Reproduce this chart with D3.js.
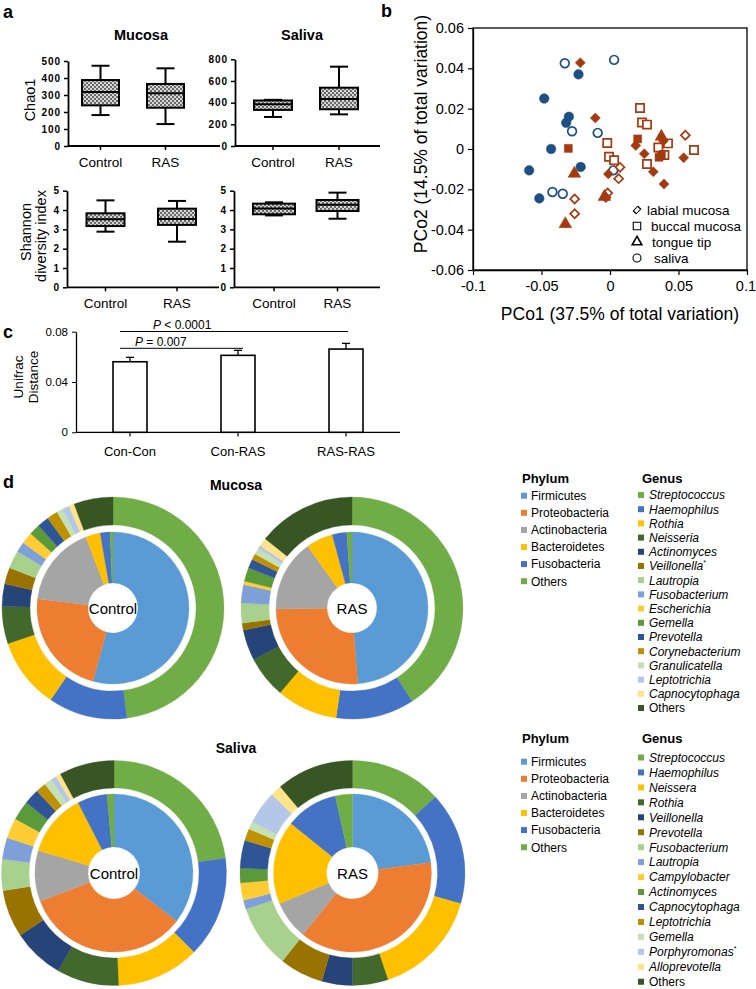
<!DOCTYPE html>
<html><head><meta charset="utf-8">
<script src="https://cdn.jsdelivr.net/npm/d3@7"></script>
<style>body{margin:0;background:#fff} svg{display:block}</style>
</head><body><svg id="fig" width="756" height="989"></svg>
<script>
// ---------------- DATA ----------------
// Panel a: box plots [min, Q1, median, Q3, max]
const boxGroups = ["Control", "RAS"];
const chaoMucosa = [[182, 239, 318, 388, 472], [129, 225, 310, 365, 457]];
const chaoSaliva = [[268, 333, 385, 420, 426], [292, 339, 434, 538, 732]];
const shannonMucosa = [[2.88, 3.17, 3.52, 3.83, 4.5], [2.36, 3.23, 3.54, 4.07, 4.47]];
const shannonSaliva = [[3.72, 3.78, 4.08, 4.33, 4.4], [3.55, 3.95, 4.27, 4.52, 4.9]];
const chaoMucosaTicks = [0, 100, 200, 300, 400, 500];
const chaoSalivaTicks = [0, 200, 400, 600, 800];
const shannonTicks = [0, 1, 2, 3, 4, 5];

// Panel b: PCoA points [PCo1, PCo2]
const salivaFilled = [[-0.023, 0.037], [-0.048, 0.025], [-0.030, 0.016], [-0.032, 0.013], [-0.043, 0.0], [-0.059, -0.0106], [-0.0214, -0.0089], [-0.0516, -0.0245]];
const salivaOpen = [[-0.033, 0.0425], [0.003, 0.0442], [-0.0277, 0.0088], [-0.009, 0.008], [0.0024, -0.0106], [-0.042, -0.0213], [-0.0345, -0.0222]];
const labialOpen = [[-0.0258, -0.0248], [-0.0258, -0.0321], [0.0073, -0.0091], [0.0063, -0.0147], [-0.0017, -0.0218], [0.055, 0.0068], [-0.003, -0.024]];
const buccalOpen = [[0.0219, 0.0203], [0.0234, 0.0131], [0.027, 0.0121], [-0.002, 0.003], [-0.0007, -0.0038], [0.003, -0.0056], [0.0353, 0.0007], [0.027, -0.0074], [0.0397, -0.003], [0.0423, 0.0028], [0.0613, -0.0005]];
const labialFilled = [[-0.0217, 0.0428], [-0.0107, 0.0154], [0.0188, 0.0017], [0.025, -0.0023], [0.0316, -0.0113], [0.0394, -0.0174], [0.0538, -0.0043], [-0.0012, -0.0124], [0.039, 0.004]];
const buccalFilled = [[-0.0304, 0.0003], [0.0202, 0.005], [0.0358, -0.0041], [0.0375, -0.003]];
const tongueFilled = [[-0.0326, -0.0372], [-0.026, -0.0122], [-0.0041, -0.0237], [0.0375, 0.0061]];
const pcoXTicks = [-0.1, -0.05, 0, 0.05, 0.1];
const pcoYTicks = [-0.06, -0.04, -0.02, 0, 0.02, 0.04, 0.06];
const pcoLegend = ["labial mucosa", "buccal mucosa", "tongue tip", "saliva"];

// Panel c: Unifrac distance
const unifracCats = ["Con-Con", "Con-RAS", "RAS-RAS"];
const unifracMean = [0.0561, 0.0612, 0.0662];
const unifracErr = [0.0035, 0.0040, 0.0045];
const unifracTicks = [0, 0.04, 0.08];

// Panel d: composition (%)
const phylumNames = ["Firmicutes", "Proteobacteria", "Actinobacteria", "Bacteroidetes", "Fusobacteria", "Others"];
const phylumMucosaControl = [54.3, 22.7, 17.3, 3.1, 2.1, 0.6];
const phylumMucosaRAS = [48.8, 26.0, 15.3, 5.7, 3.1, 1.1];
const phylumSalivaControl = [35.4, 33.7, 10.4, 12.9, 6.1, 1.4];
const phylumSalivaRAS = [22.9, 37.9, 7.9, 17.1, 10.7, 3.5];
const genusMucosa = ["Streptococcus", "Haemophilus", "Rothia", "Neisseria", "Actinomyces", "Veillonella", "Lautropia", "Fusobacterium", "Escherichia", "Gemella", "Prevotella", "Corynebacterium", "Granulicatella", "Leptotrichia", "Capnocytophaga", "Others"];
const genusMucosaControl = [48.0, 11.5, 10.3, 5.4, 3.3, 2.4, 2.6, 1.5, 1.7, 1.6, 1.7, 1.6, 0.9, 1.0, 0.8, 5.7];
const genusMucosaRAS = [40.9, 11.4, 8.9, 6.1, 4.5, 1.0, 2.9, 2.7, 0.5, 2.0, 1.3, 0.9, 0.9, 0.5, 1.2, 14.3];
const genusSaliva = ["Streptococcus", "Haemophilus", "Neissera", "Rothia", "Veillonella", "Prevotella", "Fusobacterium", "Lautropia", "Campylobacter", "Actinomyces", "Capnocytophaga", "Leptotrichia", "Gemella", "Porphyromonas", "Alloprevotella", "Others"];
const genusSalivaControl = [22.9, 14.5, 11.9, 8.9, 7.4, 6.8, 4.5, 3.1, 2.9, 2.8, 2.2, 1.5, 1.1, 0.8, 0.7, 7.9];
const genusSalivaRAS = [13.2, 16.2, 15.5, 5.1, 4.4, 6.3, 9.1, 1.3, 2.5, 2.1, 4.0, 1.7, 1.1, 4.8, 1.6, 11.1];
const starredMucosa = ["Veillonella"];
const starredSaliva = ["Porphyromonas"];

// ---------------- STYLE ----------------
const FONT = '"Liberation Sans", Arial, Helvetica, sans-serif';
const phylumColors = ["#5b9bd5", "#ed7d31", "#a5a5a5", "#ffc000", "#4472c4", "#70ad47"];
const genusColors = ["#70ad47", "#4472c4", "#ffc000", "#43682b", "#264478", "#997300", "#a9d18e", "#7f9fd9", "#ffcd33", "#5a9a3a", "#2f5597", "#bf9000", "#c5e0b4", "#b4c7e7", "#ffe38a", "#375623"];
const BLUE = "#1d4f85", RED = "#a33a10";

const svg = d3.select("#fig").attr("font-family", FONT);
const defs = svg.append("defs");
const pat = defs.append("pattern").attr("id", "dots").attr("width", 4).attr("height", 4).attr("patternUnits", "userSpaceOnUse");
pat.append("rect").attr("width", 4).attr("height", 4).attr("fill", "#d6d6d6");
pat.append("rect").attr("width", 2).attr("height", 2).attr("fill", "#6a6a6a");
pat.append("rect").attr("x", 2).attr("y", 2).attr("width", 2).attr("height", 2).attr("fill", "#6a6a6a");

function panelLabel(t, x, y) {
  svg.append("text").attr("x", x).attr("y", y).attr("font-size", 18).attr("font-weight", "bold").text(t);
}
panelLabel("a", 3, 18); panelLabel("b", 381, 17); panelLabel("c", 3, 338); panelLabel("d", 3, 488);

// ---------------- PANEL A ----------------
function boxPanel(o) {
  const y = d3.scaleLinear().domain([0, o.max]).range([o.yBottom, o.yTop]);
  const x = d3.scalePoint().domain(boxGroups).range([o.cx0, o.cx1]);
  const g = svg.append("g");
  const ax = g.append("g").attr("transform", `translate(${o.axisX},0)`)
    .call(d3.axisLeft(y).tickValues(o.ticks).tickSize(4).tickSizeOuter(0).tickPadding(3).tickFormat(d => String(d)));
  ax.select(".domain").attr("stroke-width", 1.8);
  ax.selectAll(".tick line").attr("stroke-width", 1.5);
  ax.selectAll("text").attr("font-family", FONT).attr("font-weight", "bold").attr("font-size", 10)
    .attr("letter-spacing", 0.9).attr("fill", "#000");
  g.append("line").attr("x1", o.axisX).attr("x2", o.axisEnd).attr("y1", o.yBottom).attr("y2", o.yBottom)
    .attr("stroke", "#000").attr("stroke-width", 1.8);
  boxGroups.forEach((c, i) => {
    const d = o.data[i], cx = x(c), w = o.boxW;
    g.append("line").attr("x1", cx).attr("x2", cx).attr("y1", o.yBottom).attr("y2", o.yBottom + 4).attr("stroke", "#000").attr("stroke-width", 1.5);
    g.append("text").attr("x", cx).attr("y", o.yBottom + 21).attr("text-anchor", "middle").attr("font-size", 13.5).text(c);
    g.append("line").attr("x1", cx).attr("x2", cx).attr("y1", y(d[0])).attr("y2", y(d[4])).attr("stroke", "#000").attr("stroke-width", 2);
    [d[0], d[4]].forEach(v => g.append("line").attr("x1", cx - 9).attr("x2", cx + 9).attr("y1", y(v)).attr("y2", y(v)).attr("stroke", "#000").attr("stroke-width", 2));
    g.append("rect").attr("x", cx - w / 2).attr("y", y(d[3])).attr("width", w).attr("height", y(d[1]) - y(d[3]))
      .attr("fill", "url(#dots)").attr("stroke", "#000").attr("stroke-width", 2);
    g.append("line").attr("x1", cx - w / 2).attr("x2", cx + w / 2).attr("y1", y(d[2])).attr("y2", y(d[2])).attr("stroke", "#000").attr("stroke-width", 2);
  });
}
boxPanel({data: chaoMucosa, max: 500, ticks: chaoMucosaTicks, yBottom: 146, yTop: 61, axisX: 68, axisEnd: 220, cx0: 100.5, cx1: 165.5, boxW: 37});
boxPanel({data: chaoSaliva, max: 800, ticks: chaoSalivaTicks, yBottom: 146, yTop: 59.3, axisX: 235, axisEnd: 380, cx0: 273, cx1: 339, boxW: 38});
boxPanel({data: shannonMucosa, max: 5, ticks: shannonTicks, yBottom: 287.3, yTop: 190.7, axisX: 67, axisEnd: 219, cx0: 105.5, cx1: 177, boxW: 38});
boxPanel({data: shannonSaliva, max: 5, ticks: shannonTicks, yBottom: 287.3, yTop: 190.7, axisX: 234, axisEnd: 380, cx0: 274, cx1: 337.5, boxW: 42});

svg.append("text").attr("x", 141).attr("y", 40).attr("text-anchor", "middle").attr("font-size", 14.5).attr("font-weight", "bold").text("Mucosa");
svg.append("text").attr("x", 302).attr("y", 40).attr("text-anchor", "middle").attr("font-size", 14.5).attr("font-weight", "bold").text("Saliva");
svg.append("text").attr("transform", "translate(35,100) rotate(-90)").attr("text-anchor", "middle").attr("font-size", 14.5).text("Chao1");
svg.append("text").attr("transform", "translate(31,232) rotate(-90)").attr("text-anchor", "middle").attr("font-size", 14.5).text("Shannon");
svg.append("text").attr("transform", "translate(45.5,236) rotate(-90)").attr("text-anchor", "middle").attr("font-size", 14.5).text("diversity index");

// ---------------- PANEL B ----------------
const xB = d3.scaleLinear().domain([-0.1, 0.1]).range([473, 747]);
const yB = d3.scaleLinear().domain([-0.06, 0.06]).range([270, 28]);
const gB = svg.append("g");
gB.append("rect").attr("x", 473).attr("y", 28).attr("width", 274).attr("height", 242).attr("fill", "none").attr("stroke", "#000").attr("stroke-width", 1.3);
const axYB = gB.append("g").attr("transform", "translate(473,0)").call(d3.axisLeft(yB).tickValues(pcoYTicks).tickSize(5).tickSizeOuter(0).tickPadding(4).tickFormat(d => d === 0 ? "0" : d.toFixed(2)));
const axXB = gB.append("g").attr("transform", "translate(0,270)").call(d3.axisBottom(xB).tickValues(pcoXTicks).tickSize(5).tickSizeOuter(0).tickPadding(6).tickFormat(d => d === 0 ? "0" : String(d)));
[axYB, axXB].forEach(a => {
  a.select(".domain").attr("stroke-width", 1.3);
  a.selectAll(".tick line").attr("stroke-width", 1.2);
  a.selectAll("text").attr("font-family", FONT).attr("font-size", 14.5).attr("fill", "#000");
});
axXB.selectAll(".tick text").filter(d => d === 0.1).attr("text-anchor", "end").attr("dx", 8.5);
gB.append("text").attr("x", 620).attr("y", 320).attr("text-anchor", "middle").attr("font-size", 17.5).text("PCo1 (37.5% of total variation)");
gB.append("text").attr("transform", "translate(427,134) rotate(-90)").attr("text-anchor", "middle").attr("font-size", 17.5).text("PCo2 (14.5% of total variation)");

function pts(data, type, size, color, filled, rot) {
  const sym = d3.symbol().type(type).size(size);
  gB.selectAll(null).data(data).enter().append("path")
    .attr("d", sym)
    .attr("transform", d => `translate(${xB(d[0])},${yB(d[1])})${rot ? " rotate(45)" : ""}`)
    .attr("fill", filled ? color : "#fff").attr("stroke", color).attr("stroke-width", filled ? 0.5 : 1.7);
}
pts(salivaOpen, d3.symbolCircle, 60, BLUE, false, false);
pts(labialOpen, d3.symbolSquare, 40, RED, false, true);
pts(buccalOpen, d3.symbolSquare, 68, RED, false, false);
pts(salivaFilled, d3.symbolCircle, 72, BLUE, true, false);
pts(labialFilled, d3.symbolSquare, 50, RED, true, true);
pts(buccalFilled, d3.symbolSquare, 64, RED, true, false);
pts(tongueFilled, d3.symbolTriangle, 70, RED, true, false);

// legend in b
const legShapes = [d3.symbolSquare, d3.symbolSquare, d3.symbolTriangle, d3.symbolCircle];
const legSizes = [26, 56, 40, 50];
const legTextX = [647, 651, 652, 654];
pcoLegend.forEach((t, i) => {
  const yy = 210 + i * 16;
  gB.append("path").attr("d", d3.symbol().type(legShapes[i]).size(legSizes[i]))
    .attr("transform", `translate(637,${yy})${i === 0 ? " rotate(45) scale(0.8,1.25)" : ""}`)
    .attr("fill", "none").attr("stroke", "#000").attr("stroke-width", i === 2 ? 1.6 : 1.1);
  gB.append("text").attr("x", legTextX[i]).attr("y", yy + 5).attr("font-size", 13.5).text(t);
});

// ---------------- PANEL C ----------------
const yC = d3.scaleLinear().domain([0, 0.08]).range([432.3, 331.7]);
const xC = d3.scaleBand().domain(unifracCats).range([76, 400]);
const gC = svg.append("g");
const axYC = gC.append("g").attr("transform", "translate(76,0)").call(d3.axisLeft(yC).tickValues(unifracTicks).tickSize(4).tickSizeOuter(0).tickPadding(4).tickFormat(d => d === 0 ? "0" : d.toFixed(2)));
axYC.select(".domain").attr("stroke-width", 1.3);
axYC.selectAll("text").attr("font-family", FONT).attr("font-size", 11.5).attr("fill", "#000");
gC.append("line").attr("x1", 76).attr("x2", 400).attr("y1", 432.3).attr("y2", 432.3).attr("stroke", "#000").attr("stroke-width", 1.3);
unifracCats.forEach((c, i) => {
  const cx = xC(c) + xC.bandwidth() / 2;
  gC.append("line").attr("x1", cx).attr("x2", cx).attr("y1", 432.3).attr("y2", 436.5).attr("stroke", "#000").attr("stroke-width", 1.2);
  gC.append("line").attr("x1", cx).attr("x2", cx).attr("y1", yC(unifracMean[i])).attr("y2", yC(unifracMean[i] + unifracErr[i])).attr("stroke", "#000").attr("stroke-width", 1.3);
  gC.append("line").attr("x1", cx - 4).attr("x2", cx + 4).attr("y1", yC(unifracMean[i] + unifracErr[i])).attr("y2", yC(unifracMean[i] + unifracErr[i])).attr("stroke", "#000").attr("stroke-width", 1.3);
  gC.append("rect").attr("x", cx - 17).attr("y", yC(unifracMean[i])).attr("width", 34).attr("height", 432.3 - yC(unifracMean[i]))
    .attr("fill", "#fff").attr("stroke", "#000").attr("stroke-width", 1.6);
  gC.append("text").attr("x", cx).attr("y", 456).attr("text-anchor", "middle").attr("font-size", 13).text(c);
});
gC.append("line").attr("x1", 120).attr("x2", 243).attr("y1", 348.3).attr("y2", 348.3).attr("stroke", "#000").attr("stroke-width", 1);
gC.append("line").attr("x1", 120).attr("x2", 348).attr("y1", 331.5).attr("y2", 331.5).attr("stroke", "#000").attr("stroke-width", 1);
const p1 = gC.append("text").attr("x", 135).attr("y", 345.5).attr("font-size", 12);
p1.append("tspan").attr("font-style", "italic").text("P");
p1.append("tspan").text(" = 0.007");
const p2 = gC.append("text").attr("x", 153).attr("y", 328.5).attr("font-size", 12);
p2.append("tspan").attr("font-style", "italic").text("P");
p2.append("tspan").text(" < 0.0001");
gC.append("text").attr("transform", "translate(23,377) rotate(-90)").attr("text-anchor", "middle").attr("font-size", 13.5).text("Unifrac");
gC.append("text").attr("transform", "translate(38,377) rotate(-90)").attr("text-anchor", "middle").attr("font-size", 13.5).text("Distance");

// ---------------- PANEL D ----------------
const pie = d3.pie().sort(null).value(d => d);
function donut(cx, cy, inner, outer, label, r) {
  const g = svg.append("g").attr("transform", `translate(${cx},${cy})`);
  const arcIn = d3.arc().innerRadius(r.hole).outerRadius(r.pie);
  const arcOut = d3.arc().innerRadius(r.ringIn).outerRadius(r.ringOut);
  g.selectAll(null).data(pie(outer)).enter().append("path").attr("d", arcOut)
    .attr("fill", (d, i) => genusColors[i]).attr("stroke", (d, i) => genusColors[i]).attr("stroke-width", 0.3);
  g.selectAll(null).data(pie(inner)).enter().append("path").attr("d", arcIn)
    .attr("fill", (d, i) => phylumColors[i]).attr("stroke", (d, i) => phylumColors[i]).attr("stroke-width", 0.3);
  g.append("text").attr("x", 0).attr("y", 5.5).attr("text-anchor", "middle").attr("font-size", 15).text(label);
}
const rM = {hole: 25, pie: 76, ringIn: 83, ringOut: 111};
const rS = {hole: 26, pie: 79, ringIn: 85, ringOut: 112.5};
donut(113, 608, phylumMucosaControl, genusMucosaControl, "Control", rM);
donut(352, 608, phylumMucosaRAS, genusMucosaRAS, "RAS", rM);
donut(114, 873, phylumSalivaControl, genusSalivaControl, "Control", rS);
donut(352.5, 873, phylumSalivaRAS, genusSalivaRAS, "RAS", rS);
svg.append("text").attr("x", 236).attr("y", 490).attr("text-anchor", "middle").attr("font-size", 14).attr("font-weight", "bold").text("Mucosa");
svg.append("text").attr("x", 236).attr("y", 753).attr("text-anchor", "middle").attr("font-size", 14).attr("font-weight", "bold").text("Saliva");

function legend(headY, phyY0, genY0, genStep, genera, starred) {
  const g = svg.append("g");
  g.append("text").attr("x", 522).attr("y", headY).attr("font-size", 13).attr("font-weight", "bold").text("Phylum");
  g.append("text").attr("x", 642).attr("y", headY).attr("font-size", 13).attr("font-weight", "bold").text("Genus");
  phylumNames.forEach((n, i) => {
    const yy = phyY0 + i * 17.1;
    g.append("rect").attr("x", 521).attr("y", yy - 3).attr("width", 6).attr("height", 6).attr("fill", phylumColors[i]);
    g.append("text").attr("x", 531).attr("y", yy + 4.3).attr("font-size", 12).text(n);
  });
  genera.forEach((n, i) => {
    const yy = genY0 + i * genStep;
    g.append("rect").attr("x", 638).attr("y", yy - 3).attr("width", 6).attr("height", 6).attr("fill", genusColors[i]);
    const t = g.append("text").attr("x", 649).attr("y", yy + 4.3).attr("font-size", 12);
    t.append("tspan").attr("font-style", n === "Others" ? "normal" : "italic").text(n);
    if (starred.includes(n)) t.append("tspan").attr("font-size", 7).attr("dy", -5).text("*");
  });
}
legend(483, 495.7, 495, 14.2, genusMucosa, starredMucosa);
legend(743, 761.7, 757.5, 14.95, genusSaliva, starredSaliva);
</script></body></html>
